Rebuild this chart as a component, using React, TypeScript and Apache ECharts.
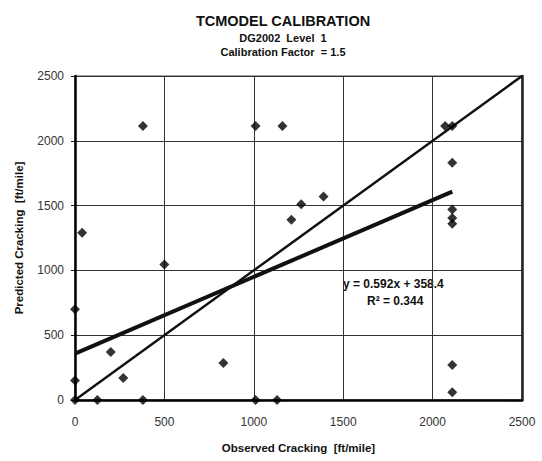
import React, { useEffect, useRef } from "react";
import * as echarts from "echarts";

const observed = [0, 0, 0, 40, 200, 125, 270, 380, 380, 500, 830, 1010, 1130, 1010, 1160, 1210, 1265, 1390, 2070, 2110, 2110, 2110, 2110, 2110, 2110, 2110];
const predicted = [0, 150, 700, 1290, 370, 0, 170, 0, 2115, 1045, 285, 0, 0, 2115, 2115, 1390, 1510, 1570, 2115, 2115, 1830, 1470, 1405, 1360, 270, 60];
const slope = 0.592;
const intercept = 358.4;
const fitRange = [0, 2110];
const equalityRange = [0, 2500];
const titleText = "TCMODEL CALIBRATION";
const subtitle1 = "DG2002  Level  1";
const subtitle2 = "Calibration Factor  = 1.5";
const eqText = "y = 0.592x + 358.4";
const r2Text = "R² = 0.344";

const FONT = "'Liberation Sans', Arial, sans-serif";

export default function App() {
  const ref = useRef<HTMLDivElement>(null);
  useEffect(() => {
    if (!ref.current) return;
    const chart = echarts.init(ref.current, undefined, { renderer: "svg" });
    const points = observed.map((x, i) => [x, predicted[i]]);
    const fit = fitRange.map((x) => [x, slope * x + intercept]);
    const eq = equalityRange.map((x) => [x, x]);
    const fmt = (v: number) => String(v);
    chart.setOption({
      animation: false,
      backgroundColor: "#fff",
      textStyle: { fontFamily: FONT },
      title: [
        { text: titleText, left: 278, top: 8, textAlign: "center", textStyle: { fontFamily: FONT, fontSize: 14.5, fontWeight: "bold", color: "#111" } },
        { text: subtitle1, left: 278, top: 27, textAlign: "center", textStyle: { fontFamily: FONT, fontSize: 11, fontWeight: "bold", color: "#111" } },
        { text: subtitle2, left: 278, top: 41, textAlign: "center", textStyle: { fontFamily: FONT, fontSize: 11, fontWeight: "bold", color: "#111" } },
      ],
      grid: { left: 75, top: 76, right: 20, bottom: 61, show: true, borderColor: "#444", borderWidth: 1 },
      xAxis: [
        {
          type: "value", min: 0, max: 2500, interval: 500,
          name: "Observed Cracking  [ft/mile]", nameLocation: "middle", nameGap: 42,
          nameTextStyle: { fontFamily: FONT, fontSize: 11.5, fontWeight: "bold", color: "#111" },
          axisLine: { show: true, onZero: false, lineStyle: { color: "#000", width: 2.5 } },
          axisTick: { show: false },
          axisLabel: { fontFamily: FONT, fontSize: 12, color: "#333", margin: 16, formatter: fmt },
          splitLine: { show: true, lineStyle: { color: "#333", width: 1 } },
        },
      ],
      yAxis: [
        {
          type: "value", min: 0, max: 2500, interval: 500,
          name: "Predicted Cracking  [ft/mile]", nameLocation: "middle", nameGap: 50,
          nameTextStyle: { fontFamily: FONT, fontSize: 11.5, fontWeight: "bold", color: "#111" },
          axisLine: { show: true, onZero: false, lineStyle: { color: "#000", width: 2.5 } },
          axisTick: { show: true, inside: false, length: 4, lineStyle: { color: "#111", width: 1 } },
          axisLabel: { fontFamily: FONT, fontSize: 12, color: "#333", margin: 11, formatter: fmt },
          splitLine: { show: true, lineStyle: { color: "#333", width: 1 } },
        },
        {
          type: "value", min: 0, max: 2500, interval: 500, position: "right",
          axisLine: { show: true, onZero: false, lineStyle: { color: "#222", width: 2.5 } },
          axisTick: { show: false }, axisLabel: { show: false }, splitLine: { show: false },
        },
      ],
      series: [
        {
          type: "line", data: eq, symbol: "none", silent: true,
          lineStyle: { color: "#111", width: 2.5 }, z: 3,
        },
        {
          type: "line", data: fit, symbol: "none", silent: true,
          lineStyle: { color: "#111", width: 4 }, z: 3,
        },
        {
          type: "scatter", data: points, symbol: "diamond", symbolSize: 10,
          itemStyle: { color: "#000" }, z: 4,
        },
      ],
      graphic: [
        { type: "text", left: 343, top: 278, style: { text: eqText, font: `bold 12px ${FONT}`, fill: "#111" } },
        { type: "text", left: 367, top: 295, style: { text: r2Text, font: `bold 12px ${FONT}`, fill: "#111" } },
      ],
    });
    return () => chart.dispose();
  }, []);
  return <div ref={ref} style={{ position: "fixed", left: 0, top: 0, width: 542, height: 461 }} />;
}
